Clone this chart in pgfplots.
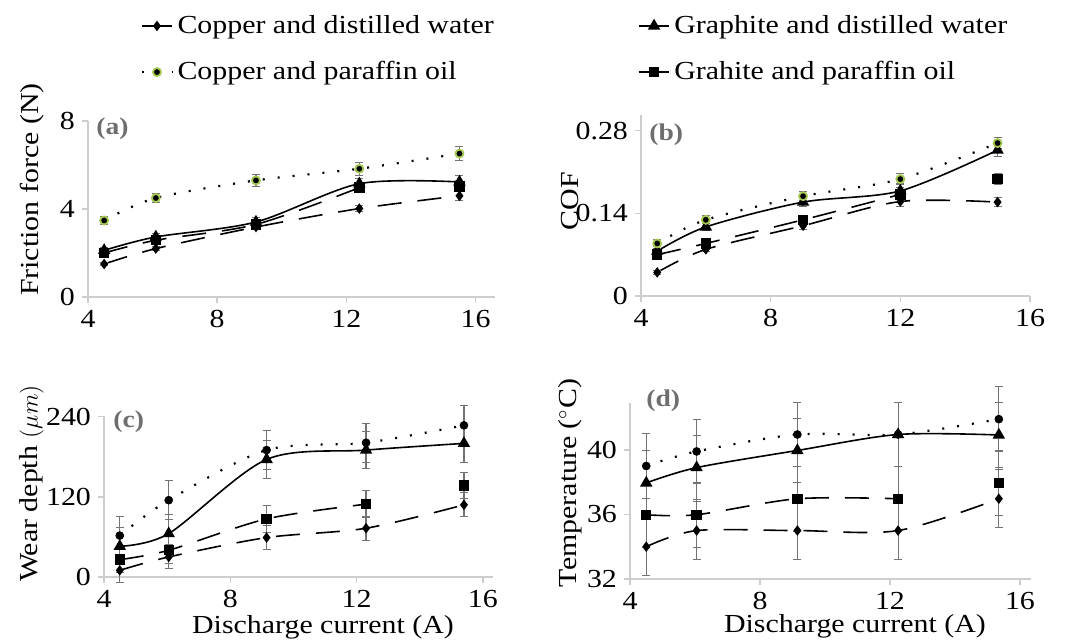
\documentclass[border=0pt]{standalone}
\usepackage{fontspec}
\setmainfont{Liberation Serif}[FakeStretch=1.15]
\usepackage{pgfplots}
\pgfplotsset{compat=1.18}

\definecolor{axgray}{RGB}{205,205,205}
\definecolor{errgray}{RGB}{115,115,115}
\definecolor{lblgray}{RGB}{110,110,110}
\definecolor{ygreen}{RGB}{165,200,80}

\pgfplotsset{
  panel/.style={
    scale only axis,
    axis x line*=bottom, axis y line*=left,
    axis line style={axgray, line width=0.8pt},
    tick style={axgray, line width=0.8pt},
    tick align=outside, major tick length=3pt,
    clip=false,
    xmin=4, xtick={4,8,12,16},
    font=\fontsize{13}{15}\selectfont,
    tick label style={font=\fontsize{13}{15}\selectfont, black},
    /pgf/number format/assume math mode=true,
    ylabel style={anchor=center},
    xlabel style={anchor=center},
  },
  errb/.style={
    error bars/y dir=both, error bars/y explicit,
    error bars/error bar style={draw=errgray, line width=0.6pt, solid},
    error bars/error mark options={draw=errgray, rotate=90, mark size=2pt, line width=0.5pt, solid}},
  sDia/.style={black, line width=0.8pt, smooth, dash pattern=on 12pt off 8pt,
    mark=diamond*, mark size=2pt, mark options={solid, fill=black},
    legend image post style={solid}},
  sTri/.style={black, line width=0.8pt, smooth,
    mark=triangle*, mark size=2.8pt, mark options={solid, fill=black}},
  sSq/.style={black, line width=0.8pt, smooth, dash pattern=on 12pt off 8pt,
    mark=square*, mark size=2.2pt, mark options={solid, fill=black},
    legend image post style={solid}},
  sDot/.style={black, line width=1.1pt, smooth, dash pattern=on 1pt off 6.5pt,
    mark=*, mark size=2pt, mark options={solid, fill=black, draw=black, line width=0.3pt}},
  sDotG/.style={sDot, mark options={solid, fill=black, draw=ygreen, line width=0.9pt}},
  onlym/.style={only marks},
}

\begin{document}
\begin{tikzpicture}
\useasboundingbox (0,0) rectangle (538.5pt,319.5pt);

% (a) friction force
\begin{axis}[panel, at={(44pt,171pt)}, anchor=south west,
  width=203.5pt, height=88pt,
  xmax=16.6, ymin=0, ymax=8, ytick={0,4,8},
  ylabel={Friction force (N)},
  ylabel style={at={(axis description cs:-0.138,0.61)}},
  legend columns=2, legend cell align=left,
  legend style={at={(axis description cs:0.128,1.625)}, anchor=north west,
    draw=none, fill=none, inner sep=0pt, row sep=8.5pt,
    font=\fontsize{13}{15}\selectfont,
    /tikz/every even column/.append style={column sep=70pt}},
  legend image code/.code={\draw[mark repeat=2,mark phase=2]
    plot coordinates {(0pt,0pt) (7.7pt,0pt) (15.4pt,0pt)};},
]
\addplot[sDia, errb] coordinates {
  (4.5,1.5) +- (0,0.08) (6.1,2.2) +- (0,0.1) (9.2,3.18) +- (0,0.12)
  (12.4,4.02) +- (0,0.15) (15.5,4.6) +- (0,0.2)};
\addlegendentry{Copper and distilled water}
\addplot[sTri, errb] coordinates {
  (4.5,2.12) +- (0,0.12) (6.1,2.73) +- (0,0.15) (9.2,3.41) +- (0,0.2)
  (12.4,5.15) +- (0,0.25) (15.5,5.23) +- (0,0.3)};
\addlegendentry{Graphite and distilled water}
\addplot[sDotG, errb] coordinates {
  (4.5,3.48) +- (0,0.17) (6.1,4.5) +- (0,0.22) (9.2,5.3) +- (0,0.26)
  (12.4,5.83) +- (0,0.29) (15.5,6.52) +- (0,0.31)};
\addlegendentry{Copper and paraffin oil}
\addplot[sSq, errb] coordinates {
  (4.5,2.0) +- (0,0.1) (6.1,2.58) +- (0,0.12) (9.2,3.3) +- (0,0.15)
  (12.4,4.97) +- (0,0.2)};
\addlegendentry{Grahite and paraffin oil}
\addplot[sSq, onlym, errb, forget plot] coordinates {(15.5,5.03) +- (0,0.25)};
\node[anchor=north west, inner sep=0pt, text=lblgray, font=\fontsize{12}{14}\selectfont\bfseries,
  xshift=4pt, yshift=2pt] at (rel axis cs:0,1) {(a)};
\end{axis}

% (b) COF
\begin{axis}[panel, at={(320.5pt,171.5pt)}, anchor=south west,
  width=194.5pt, height=90.5pt,
  xmax=16, ymin=0, ymax=0.3065, ytick={0,0.14,0.28},
  yticklabels={0,0.14,0.28},
  ylabel={COF},
  ylabel style={at={(axis description cs:-0.183,0.525)}},
]
\addplot[sDia, errb] coordinates {
  (4.5,0.040) +- (0,0.003) (6,0.079) +- (0,0.004) (9,0.119) +- (0,0.006)
  (12,0.160) +- (0,0.008) (15,0.159) +- (0,0.008)};
\addplot[sTri, errb] coordinates {
  (4.5,0.076) +- (0,0.005) (6,0.117) +- (0,0.006) (9,0.159) +- (0,0.007)
  (12,0.178) +- (0,0.012) (15,0.247) +- (0,0.01)};
\addplot[sDotG, errb] coordinates {
  (4.5,0.089) +- (0,0.006) (6,0.129) +- (0,0.007) (9,0.169) +- (0,0.008)
  (12,0.198) +- (0,0.01) (15,0.259) +- (0,0.01)};
\addplot[sSq, errb] coordinates {
  (4.5,0.070) +- (0,0.004) (6,0.089) +- (0,0.005) (9,0.129) +- (0,0.006)
  (12,0.172) +- (0,0.012)};
\addplot[sSq, onlym, errb] coordinates {(15,0.198) +- (0,0.01)};
\node[anchor=north west, inner sep=0pt, text=lblgray, font=\fontsize{12}{14}\selectfont\bfseries,
  xshift=4pt, yshift=-4pt] at (rel axis cs:0,1) {(b)};
\end{axis}

% (c) wear depth
\begin{axis}[panel, at={(52pt,31pt)}, anchor=south west,
  width=194.5pt, height=80.5pt,
  xmax=16.32, ymin=0, ymax=241, ytick={0,120,240},
  ylabel={Wear depth $(\mu m)$},
  ylabel style={at={(axis description cs:-0.186,0.58)}},
  xlabel={Discharge current (A)},
  xlabel style={at={(axis description cs:0.563,-0.31)}},
]
\addplot[sDia, errb] coordinates {
  (4.5,10) +- (0,18) (6.05,30) +- (0,18) (9.15,59) +- (0,18)
  (12.3,73) +- (0,18) (15.4,108) +- (0,18)};
\addplot[sTri, errb] coordinates {
  (4.5,46) +- (0,28) (6.05,65) +- (0,28) (9.15,176) +- (0,28)
  (12.3,190) +- (0,28) (15.4,200) +- (0,28)};
\addplot[sDot, errb] coordinates {
  (4.5,62) +- (0,29) (6.05,115) +- (0,29) (9.15,190) +- (0,29)
  (12.3,201) +- (0,29) (15.4,227) +- (0,29)};
\addplot[sSq, errb] coordinates {
  (4.5,26) +- (0,20) (6.05,40) +- (0,20) (9.15,87) +- (0,20)
  (12.3,109) +- (0,20)};
\addplot[sSq, onlym, errb] coordinates {(15.4,137) +- (0,20)};
\node[anchor=north west, inner sep=0pt, text=lblgray, font=\fontsize{12}{14}\selectfont\bfseries,
  xshift=4.5pt, yshift=3pt] at (rel axis cs:0,1) {(c)};
\end{axis}

% (d) temperature
\begin{axis}[panel, at={(315pt,30pt)}, anchor=south west,
  width=200.5pt, height=88pt,
  xmax=16.34, ymin=32, ymax=42.9, ytick={32,36,40},
  ylabel={Temperature (${}^\circ$C)},
  ylabel style={at={(axis description cs:-0.15,0.545)}},
  xlabel={Discharge current (A)},
  xlabel style={at={(axis description cs:0.561,-0.27)}},
]
\addplot[sDia, errb] coordinates {
  (4.5,34.0) +- (0,1.8) (6.05,35.0) +- (0,1.8) (9.15,35.0) +- (0,1.8)
  (12.25,35.0) +- (0,1.8) (15.35,36.97) +- (0,1.8)};
\addplot[sTri, errb] coordinates {
  (4.5,37.95) +- (0,2) (6.05,38.9) +- (0,2) (9.15,39.96) +- (0,2)
  (12.25,40.95) +- (0,2) (15.35,40.92) +- (0,2)};
\addplot[sDot, errb] coordinates {
  (4.5,39.0) +- (0,2) (6.05,39.9) +- (0,2) (9.15,40.95) +- (0,2)
  (12.25,40.95) +- (0,2) (15.35,41.9) +- (0,2)};
\addplot[sSq, errb] coordinates {
  (4.5,35.98) +- (0,2) (6.05,35.98) +- (0,2) (9.15,36.97) +- (0,2)
  (12.25,36.97) +- (0,2)};
\addplot[sSq, onlym, errb] coordinates {(15.35,37.95) +- (0,2)};
\node[anchor=north west, inner sep=0pt, text=lblgray, font=\fontsize{12}{14}\selectfont\bfseries,
  xshift=8pt, yshift=7pt] at (rel axis cs:0,1) {(d)};
\end{axis}
\end{tikzpicture}
\end{document}
